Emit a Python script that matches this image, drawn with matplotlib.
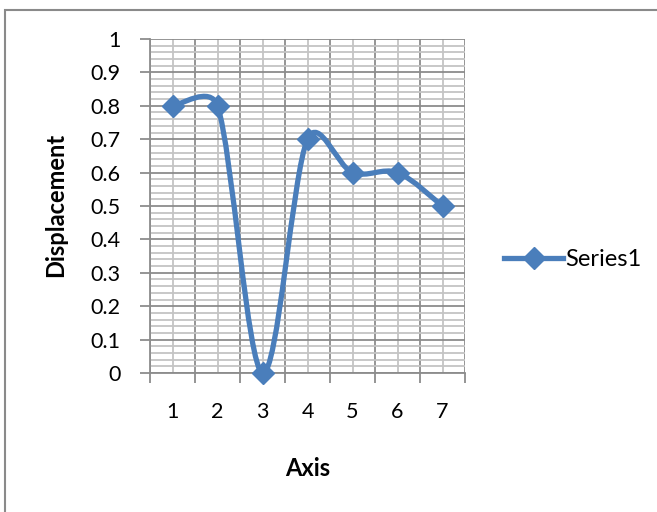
import numpy as np
import matplotlib.pyplot as plt
from matplotlib.path import Path
from matplotlib.patches import PathPatch, Rectangle
from matplotlib.lines import Line2D
from matplotlib.ticker import MultipleLocator, FixedLocator, NullFormatter

plt.rcParams['font.family'] = ['Lato', 'DejaVu Sans']

categories = [1, 2, 3, 4, 5, 6, 7]
series1 = [0.8, 0.8, 0.0, 0.7, 0.6, 0.6, 0.5]
series_name = "Series1"
y_label = "Displacement"
x_label = "Axis"

BLUE = '#4A7EBB'
MAJOR = '#8c8c8c'
MINOR = '#c4c4c4'

W, H = 657, 512
fig = plt.figure(figsize=(W / 100, H / 100), dpi=100)
ax = fig.add_axes([150 / W, (H - 373) / H, 315 / W, 334 / H])

# chart border (only left and top visible in the crop)
fig.patches.append(Rectangle((5 / W, -0.1), 1.2, (H - 10) / H + 0.1,
                             transform=fig.transFigure, fill=False,
                             edgecolor='#8a8a8a', linewidth=1.5))

ax.set_xlim(0.5, 7.5)
ax.set_ylim(0, 1)

# grid
ax.yaxis.set_major_locator(MultipleLocator(0.1))
ax.yaxis.set_minor_locator(MultipleLocator(0.02))
ax.xaxis.set_major_locator(FixedLocator(np.arange(0.5, 8, 1)))
ax.xaxis.set_minor_locator(FixedLocator(categories))
ax.xaxis.set_major_formatter(NullFormatter())
ax.xaxis.set_minor_formatter(plt.FuncFormatter(lambda v, p: f"{int(v)}"))
ax.yaxis.set_major_formatter(plt.FuncFormatter(lambda v, p: f"{v:g}"))
ax.grid(which='minor', color=MINOR, linewidth=1.3)
ax.grid(which='major', color=MAJOR, linewidth=1.3)
ax.set_axisbelow(True)

ax.tick_params(axis='y', which='major', length=7, color=MAJOR, width=1.3,
               labelsize=15.5, pad=14)
ax.tick_params(axis='y', which='minor', length=0)
ax.tick_params(axis='x', which='major', length=7, color=MAJOR, width=1.3)
ax.tick_params(axis='x', which='minor', length=0, labelsize=15.5, pad=21)

for s in ['top', 'right']:
    ax.spines[s].set_visible(False)
for s in ['left', 'bottom']:
    ax.spines[s].set_color(MAJOR)
    ax.spines[s].set_linewidth(1.3)

fig.text(56 / W, (H - 205) / H, y_label, rotation=90, fontsize=17,
         fontweight='bold', ha='center', va='center')
fig.text(308 / W, (H - 468) / H, x_label, fontsize=17,
         fontweight='bold', ha='center', va='center')

# smoothed line (Excel-style bezier through the points, in display space)
pts = ax.transData.transform(np.column_stack([categories, series1]))
n = len(pts)


def ctrl(prev, cur, nxt, seg):
    v = (nxt - prev) / 6
    lim = np.hypot(*seg) / 2
    ln = np.hypot(*v)
    if ln > lim and ln > 0:
        v = v * lim / ln
    return v


verts = [pts[0]]
codes = [Path.MOVETO]
for i in range(n - 1):
    p0 = pts[i - 1] if i > 0 else pts[i]
    p1 = pts[i]
    p2 = pts[i + 1]
    p3 = pts[i + 2] if i + 2 < n else pts[i + 1]
    c1 = p1 + ctrl(p0, p1, p2, p2 - p1)
    c2 = p2 - ctrl(p1, p2, p3, p2 - p1)
    verts += [c1, c2, p2]
    codes += [Path.CURVE4] * 3
path = Path(ax.transData.inverted().transform(verts), codes)
ax.add_patch(PathPatch(path, fill=False, edgecolor=BLUE, linewidth=3.8,
                       capstyle='round', joinstyle='round', zorder=3,
                       clip_on=False))
ax.plot(categories, series1, linestyle='none', marker='D', markersize=11.5,
        color=BLUE, zorder=4, clip_on=False)

handle = Line2D([], [], color=BLUE, linewidth=3.8, marker='D', markersize=11.5)
fig.legend([handle], [series_name], loc='center left',
           bbox_to_anchor=(504 / W, (H - 260) / H), frameon=False,
           fontsize=17, handlelength=2.5, handletextpad=0.1,
           borderpad=0, borderaxespad=0)

fig.savefig('out.png', dpi=100)
